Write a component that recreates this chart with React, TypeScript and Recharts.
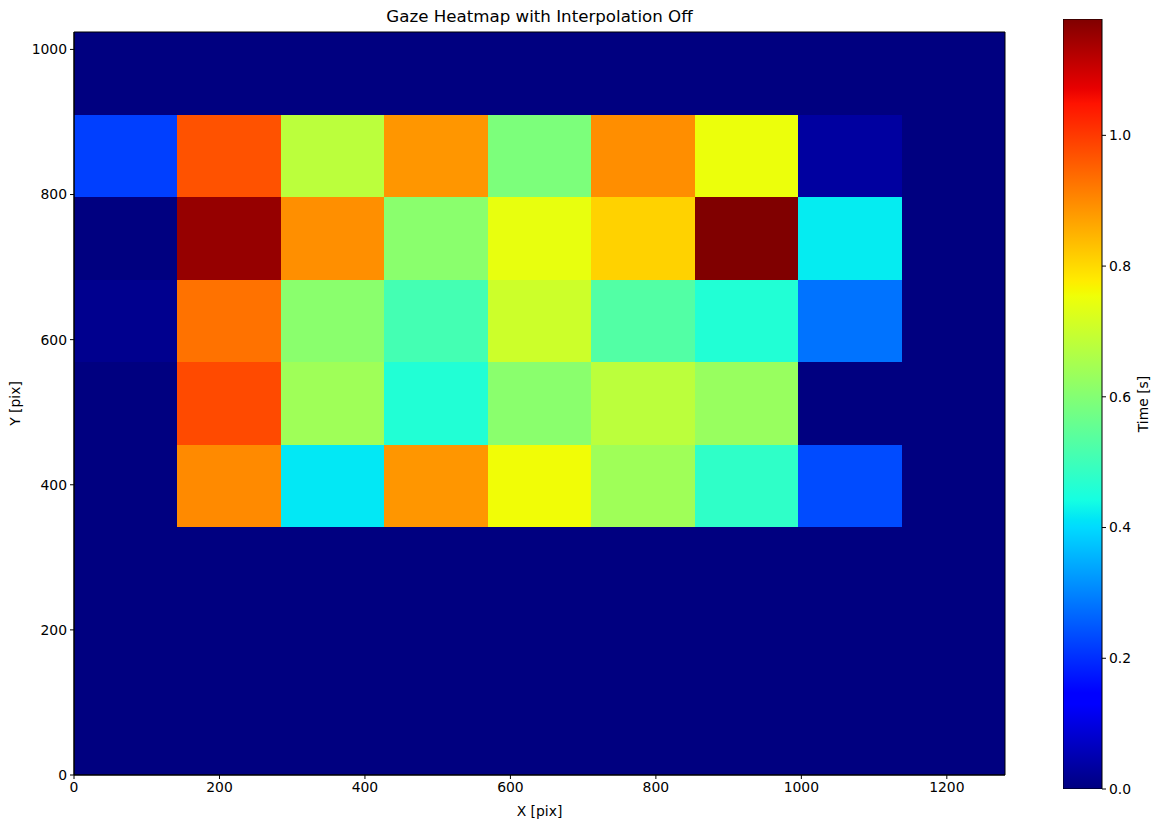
import { ComposedChart, XAxis, YAxis, ReferenceArea, Bar } from 'recharts';

const X_MAX = 1280;
const Y_MAX = 1024;
const T_MAX = 1.178;

const X_TICKS = [0, 200, 400, 600, 800, 1000, 1200];
const Y_TICKS = [0, 200, 400, 600, 800, 1000];
const CBAR_TICKS = [0, 0.2, 0.4, 0.6, 0.8, 1.0];

// dwell time [s] per cell, one array per row, top row (y = 1024) first
const ROW_8 = [0, 0, 0, 0, 0, 0, 0, 0, 0];
const ROW_7 = [0.22, 0.97, 0.68, 0.885, 0.59, 0.895, 0.75, 0.033, 0];
const ROW_6 = [0, 1.155, 0.893, 0.61, 0.745, 0.81, 1.178, 0.42, 0];
const ROW_5 = [0.015, 0.93, 0.61, 0.51, 0.705, 0.53, 0.46, 0.28, 0];
const ROW_4 = [0, 0.98, 0.64, 0.46, 0.61, 0.68, 0.63, 0, 0];
const ROW_3 = [0, 0.9, 0.415, 0.885, 0.757, 0.64, 0.48, 0.234, 0];
const ROW_2 = [0, 0, 0, 0, 0, 0, 0, 0, 0];
const ROW_1 = [0, 0, 0, 0, 0, 0, 0, 0, 0];
const ROW_0 = [0, 0, 0, 0, 0, 0, 0, 0, 0];

const ROWS_TOP_DOWN = [ROW_8, ROW_7, ROW_6, ROW_5, ROW_4, ROW_3, ROW_2, ROW_1, ROW_0];

// matplotlib 'jet' segment data
const JET_R: [number, number][] = [[0, 0], [0.35, 0], [0.66, 1], [0.89, 1], [1, 0.5]];
const JET_G: [number, number][] = [[0, 0], [0.125, 0], [0.375, 1], [0.64, 1], [0.91, 0], [1, 0]];
const JET_B: [number, number][] = [[0, 0.5], [0.11, 1], [0.34, 1], [0.65, 0], [1, 0]];
const JET_STOPS = [0, 0.11, 0.125, 0.34, 0.35, 0.375, 0.64, 0.65, 0.66, 0.89, 0.91, 1];

function seg(pts: [number, number][], v: number) {
    for (let i = 1; i < pts.length; i++) {
        if (v <= pts[i][0]) {
            const [x0, y0] = pts[i - 1];
            const [x1, y1] = pts[i];
            return y0 + ((v - x0) / (x1 - x0)) * (y1 - y0);
        }
    }
    return pts[pts.length - 1][1];
}

function jet(v: number) {
    const c = Math.min(1, Math.max(0, v));
    const r = Math.round(seg(JET_R, c) * 255);
    const g = Math.round(seg(JET_G, c) * 255);
    const b = Math.round(seg(JET_B, c) * 255);
    return `rgb(${r},${g},${b})`;
}

const FONT = { fill: '#000', fontSize: 13.9, fontFamily: 'DejaVu Sans' };

const nRows = ROWS_TOP_DOWN.length;
const nCols = ROW_0.length;
const cells = ROWS_TOP_DOWN.flatMap((row, ri) =>
    row.map((t, ci) => ({
        x1: (ci * X_MAX) / nCols,
        x2: ((ci + 1) * X_MAX) / nCols,
        y1: ((nRows - 1 - ri) * Y_MAX) / nRows,
        y2: ((nRows - ri) * Y_MAX) / nRows,
        t,
    }))
);

// colorbar is a single full-height bar
const cbarData = [{ name: 'cbar', t: T_MAX }];

export default function App() {
    return (
        <div style={{ position: 'absolute', left: 0, top: 0, width: 1162, height: 829, background: '#fff', fontFamily: 'DejaVu Sans' }}>
            <div
                style={{
                    position: 'absolute',
                    left: 74,
                    top: 7,
                    width: 931,
                    lineHeight: '20px',
                    fontSize: 16.67,
                    textAlign: 'center',
                    color: '#000',
                }}
            >
                Gaze Heatmap with Interpolation Off
            </div>

            <div style={{ position: 'absolute', left: 0, top: 0 }}>
                <ComposedChart width={1162} height={829} margin={{ top: 32, right: 157, bottom: 12, left: 0 }}>
                    <XAxis
                        type="number"
                        dataKey="x"
                        domain={[0, X_MAX]}
                        ticks={X_TICKS}
                        allowDataOverflow
                        height={42}
                        tickSize={4}
                        tickMargin={3}
                        tick={FONT}
                        stroke="#000"
                        label={{ value: 'X [pix]', position: 'insideBottom', offset: 1, ...FONT }}
                    />
                    <YAxis
                        type="number"
                        dataKey="y"
                        domain={[0, Y_MAX]}
                        ticks={Y_TICKS}
                        allowDataOverflow
                        width={74}
                        tickSize={4}
                        tickMargin={3}
                        tick={FONT}
                        stroke="#000"
                        label={{ value: 'Y [pix]', angle: -90, position: 'insideLeft', offset: 15, ...FONT, style: { textAnchor: 'middle' } }}
                    />
                    {cells.map((c, i) => (
                        <ReferenceArea
                            key={i}
                            x1={c.x1}
                            x2={c.x2}
                            y1={c.y1}
                            y2={c.y2}
                            fill={jet(c.t / T_MAX)}
                            fillOpacity={1}
                            stroke="none"
                            shapeRendering="crispEdges"
                            ifOverflow="visible"
                        />
                    ))}
                    <ReferenceArea x1={0} x2={X_MAX} y1={0} y2={Y_MAX} fill="none" stroke="#000" strokeWidth={1} ifOverflow="visible" />
                </ComposedChart>
            </div>

            <div style={{ position: 'absolute', left: 1063, top: 0 }}>
                <ComposedChart
                    width={99}
                    height={829}
                    data={cbarData}
                    margin={{ top: 19, right: 0, bottom: 40, left: 0 }}
                    barCategoryGap={0}
                >
                    <defs>
                        <linearGradient id="jetGradient" x1="0" y1="1" x2="0" y2="0">
                            {JET_STOPS.map((s) => (
                                <stop key={s} offset={s} stopColor={jet(s)} />
                            ))}
                        </linearGradient>
                    </defs>
                    <XAxis dataKey="name" height={0} tick={false} axisLine={false} tickLine={false} />
                    <YAxis
                        type="number"
                        orientation="right"
                        domain={[0, T_MAX]}
                        ticks={CBAR_TICKS}
                        allowDataOverflow
                        width={60}
                        tickSize={4}
                        tickMargin={3}
                        tick={FONT}
                        tickFormatter={(v: number) => v.toFixed(1)}
                        stroke="#000"
                        axisLine={false}
                        label={{ value: 'Time [s]', angle: -90, position: 'insideRight', offset: 19, ...FONT, style: { textAnchor: 'middle' } }}
                    />
                    <Bar dataKey="t" fill="url(#jetGradient)" stroke="#000" strokeWidth={1} isAnimationActive={false} />
                </ComposedChart>
            </div>
        </div>
    );
}
